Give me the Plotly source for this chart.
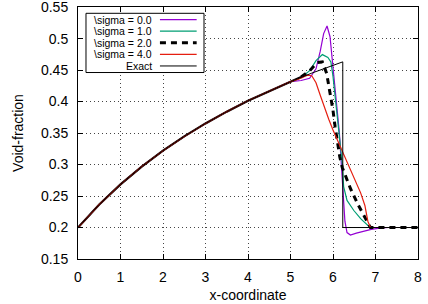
import plotly.graph_objects as go

# ---- data ----
x_s0 = [0, 0.5, 1, 1.5, 2, 2.5, 3, 3.5, 4, 4.5, 5, 5.25, 5.45, 5.6, 5.7, 5.78, 5.86, 5.93, 5.98,
        6.04, 6.1, 6.15, 6.2, 6.24, 6.28, 6.33, 6.41, 6.55, 6.7, 6.9, 7.1, 7.3, 8]
y_s0 = [0.2, 0.2366, 0.2685, 0.2968, 0.322, 0.3447, 0.3653, 0.384, 0.4012, 0.417, 0.4316, 0.4335,
        0.437, 0.452, 0.48, 0.508, 0.52, 0.503, 0.465, 0.42, 0.385, 0.35, 0.3, 0.25, 0.21, 0.192,
        0.188, 0.191, 0.194, 0.197, 0.199, 0.2, 0.2]

x_s1 = [0, 0.5, 1, 1.5, 2, 2.5, 3, 3.5, 4, 4.5, 5, 5.25, 5.45, 5.6, 5.75, 5.88, 5.95, 6.0, 6.06,
        6.12, 6.18, 6.22, 6.25, 6.33, 6.49, 6.65, 6.84, 6.95, 8]
y_s1 = [0.2, 0.2366, 0.2685, 0.2968, 0.322, 0.3447, 0.3653, 0.384, 0.4012, 0.417, 0.4316, 0.438,
        0.449, 0.465, 0.4746, 0.47, 0.463, 0.44, 0.4, 0.36, 0.32, 0.3, 0.265, 0.243, 0.227, 0.214,
        0.202, 0.2, 0.2]

x_s2 = [0, 0.5, 1, 1.5, 2, 2.5, 3, 3.5, 4, 4.5, 5, 5.25, 5.45, 5.63, 5.75, 5.85, 5.94, 6.0, 6.05,
        6.1, 6.16, 6.22, 6.3, 6.41, 6.6, 6.79, 6.88, 8]
y_s2 = [0.2, 0.2366, 0.2685, 0.2968, 0.322, 0.3447, 0.3653, 0.384, 0.4012, 0.417, 0.4316, 0.439,
        0.449, 0.462, 0.463, 0.445, 0.41, 0.386, 0.36, 0.339, 0.312, 0.295, 0.28, 0.262, 0.235,
        0.21, 0.2, 0.2]

x_s4 = [0, 0.5, 1, 1.5, 2, 2.5, 3, 3.5, 4, 4.5, 5, 5.2, 5.4, 5.5, 5.6, 5.7, 5.8, 5.9, 6.0, 6.1,
        6.2, 6.3, 6.4, 6.5, 6.65, 6.75, 6.82, 6.88, 8]
y_s4 = [0.2, 0.2366, 0.2685, 0.2968, 0.322, 0.3447, 0.3653, 0.384, 0.4012, 0.417, 0.4316, 0.436,
        0.442, 0.441, 0.43, 0.41, 0.39, 0.372, 0.355, 0.34, 0.324, 0.31, 0.295, 0.28, 0.255,
        0.235, 0.21, 0.2, 0.2]

x_exact = [0, 0.5, 1, 1.5, 2, 2.5, 3, 3.5, 4, 4.5, 5, 5.5, 6, 6.23, 6.23, 8]
y_exact = [0.2, 0.2366, 0.2685, 0.2968, 0.322, 0.3447, 0.3653, 0.384, 0.4012, 0.417, 0.4316,
           0.4452, 0.4578, 0.4631, 0.2, 0.2]

series_names = ["\\sigma = 0.0", "\\sigma = 1.0", "\\sigma = 2.0", "\\sigma = 4.0", "Exact"]
x_ticks = [0, 1, 2, 3, 4, 5, 6, 7, 8]
y_ticks = [0.15, 0.2, 0.25, 0.3, 0.35, 0.4, 0.45, 0.5, 0.55]

# ---- styles ----
FONT = "Liberation Sans, Arial, Helvetica, sans-serif"
styles = [
    dict(color="#9400d3", width=1.2, dash="solid"),
    dict(color="#009e73", width=1.2, dash="solid"),
    dict(color="#000000", width=3, dash="6px,5px"),
    dict(color="#e51e10", width=1.2, dash="solid"),
    dict(color="#000000", width=1, dash="solid"),
]

fig = go.Figure()
series = [(x_s0, y_s0), (x_s1, y_s1), (x_s2, y_s2), (x_s4, y_s4), (x_exact, y_exact)]
for i, ((xs, ys), name, st) in enumerate(zip(series, series_names, styles)):
    if i == 2:
        # dense-sampled smooth part renders as a solid dark stroke in the reference
        k = xs.index(5.25) + 1
        fig.add_trace(go.Scatter(x=xs[:k], y=ys[:k], mode="lines", name=name,
                                 line=dict(color="#000000", width=2.2),
                                 showlegend=False, hoverinfo="skip"))
        fig.add_trace(go.Scatter(x=xs[k - 1:], y=ys[k - 1:], mode="lines", name=name, line=st,
                                 showlegend=False, hoverinfo="skip"))
    else:
        fig.add_trace(go.Scatter(x=xs, y=ys, mode="lines", name=name, line=st,
                                 showlegend=False, hoverinfo="skip"))

# manual gnuplot-style legend (text left, sample right)
lx0, lx1, ly0, ly1 = 0.0235, 0.3706, 0.74, 0.975
fig.add_shape(type="rect", xref="paper", yref="paper", x0=lx0, x1=lx1, y0=ly0, y1=ly1,
              line=dict(color="black", width=1), fillcolor="white", layer="above")
rows = [0.95, 0.904, 0.858, 0.812, 0.766]
for name, st, ry in zip(series_names, styles, rows):
    fig.add_annotation(x=0.2215, y=ry, xref="paper", yref="paper", text=name,
                       showarrow=False, xanchor="right", yanchor="middle", borderpad=0,
                       font=dict(family=FONT, size=10.5, color="black"))
    fig.add_shape(type="line", xref="paper", yref="paper", x0=0.241, x1=0.349, y0=ry, y1=ry,
                  line=st, layer="above")

axis_common = dict(
    showline=True, linecolor="black", linewidth=1, mirror="ticks",
    ticks="inside", ticklen=5, tickcolor="black", tickwidth=1,
    showgrid=True, gridcolor="#444444", gridwidth=1, griddash="1px,3px",
    zeroline=False, tickfont=dict(family=FONT, size=14, color="black"),
    ticklabeloverflow="allow",
)

fig.update_xaxes(range=[0, 8], tickvals=x_ticks, ticklabelstandoff=5,
                 title=dict(text="x-coordinate", font=dict(family=FONT, size=14, color="black"),
                            standoff=6),
                 **axis_common)
fig.update_yaxes(range=[0.15, 0.5502], tickvals=y_ticks, ticklabelstandoff=6,
                 title=dict(text="Void-fraction", font=dict(family=FONT, size=14, color="black"),
                            standoff=14),
                 **axis_common)

fig.update_layout(
    width=428, height=304,
    margin=dict(l=78, r=10, t=7, b=45, autoexpand=False),
    paper_bgcolor="white", plot_bgcolor="white",
    font=dict(family=FONT, color="black"),
)

fig.write_html("out.html")
